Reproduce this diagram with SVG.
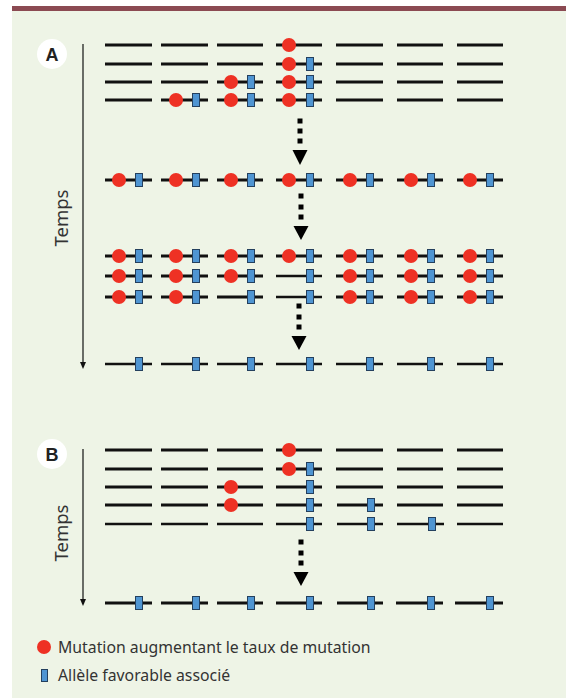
<svg xmlns="http://www.w3.org/2000/svg" width="566" height="698" viewBox="0 0 566 698">
<style>
.ch{stroke:#111;stroke-width:3;fill:none}
.th{stroke-width:2.4}
.m{fill:#ee3124}
.a{fill:#4f95d2;stroke:#24405e;stroke-width:1}
.ax{stroke:#111;stroke-width:1.2;fill:none}
.dot{fill:#000}
.lbl{font-family:"Liberation Sans",Arial,sans-serif;font-weight:bold;font-size:18px;fill:#222;text-anchor:middle}
.t{font-family:"Noto Sans","Open Sans",sans-serif;font-size:18.5px;fill:#333;text-anchor:middle}
.lg{font-family:"Noto Sans","Open Sans",sans-serif;font-size:15.8px;fill:#333}
</style>
<rect x="0" y="0" width="566" height="698" fill="#ffffff"/>
<rect x="12" y="10" width="554" height="688" fill="#eef4e6"/>
<rect x="12" y="6" width="554" height="5" fill="#8b4a52"/>

<g id="labelA"><circle cx="52" cy="54" r="15" fill="#fff"/><text class="lbl" x="52" y="60.5">A</text></g>
<g id="labelB"><circle cx="52" cy="454" r="15" fill="#fff"/><text class="lbl" x="52" y="460.5">B</text></g>
<text class="t" transform="translate(68,218) rotate(-90)">Temps</text>
<text class="t" transform="translate(68,533) rotate(-90)">Temps</text>

<g id="connectors">
<path class="ax" d="M83 44V363"/><polygon points="80,362 86,362 83,369" fill="#111"/>
<path class="ax" d="M83 449V600"/><polygon points="80,599 86,599 83,606" fill="#111"/>
<g id="arrowA1"><rect class="dot" x="297.5" y="118.5" width="5" height="5"/><rect class="dot" x="297.5" y="128.5" width="5" height="5"/><rect class="dot" x="297.5" y="138.5" width="5" height="5"/><polygon points="292.5,150 307.5,150 300,165"/></g>
<g id="arrowA2"><rect class="dot" x="298.5" y="193.5" width="5" height="5"/><rect class="dot" x="298.5" y="204.5" width="5" height="5"/><rect class="dot" x="298.5" y="214.5" width="5" height="5"/><polygon points="293.5,226 308.5,226 301,240"/></g>
<g id="arrowA3"><rect class="dot" x="296.5" y="303.5" width="5" height="5"/><rect class="dot" x="296.5" y="314.5" width="5" height="5"/><rect class="dot" x="296.5" y="324.5" width="5" height="5"/><polygon points="291.5,336 306.5,336 299,350"/></g>
<g id="arrowB"><rect class="dot" x="298.5" y="539.5" width="5" height="5"/><rect class="dot" x="298.5" y="550.5" width="5" height="5"/><rect class="dot" x="298.5" y="560.5" width="5" height="5"/><polygon points="293.5,572 308.5,572 301,586"/></g>
</g>

<!-- A stage 1 -->
<g id="a1r1c1"><path class="ch" d="M105 45h47"/></g>
<g id="a1r1c2"><path class="ch" d="M161 45h47"/></g>
<g id="a1r1c3"><path class="ch" d="M217 45h46"/></g>
<g id="a1r1c4"><path class="ch" d="M276 45h46"/><circle class="m" cx="289" cy="45" r="7"/></g>
<g id="a1r1c5"><path class="ch" d="M336 45h47"/></g>
<g id="a1r1c6"><path class="ch" d="M397 45h46"/></g>
<g id="a1r1c7"><path class="ch" d="M457 45h46"/></g>

<g id="a1r2c1"><path class="ch" d="M105 64h47"/></g>
<g id="a1r2c2"><path class="ch" d="M161 64h47"/></g>
<g id="a1r2c3"><path class="ch" d="M217 64h46"/></g>
<g id="a1r2c4"><path class="ch" d="M276 64h46"/><circle class="m" cx="289" cy="64" r="7"/><rect class="a" x="306.5" y="57.5" width="7" height="13"/></g>
<g id="a1r2c5"><path class="ch" d="M336 64h47"/></g>
<g id="a1r2c6"><path class="ch" d="M397 64h46"/></g>
<g id="a1r2c7"><path class="ch" d="M457 64h46"/></g>

<g id="a1r3c1"><path class="ch" d="M105 82h47"/></g>
<g id="a1r3c2"><path class="ch" d="M161 82h47"/></g>
<g id="a1r3c3"><path class="ch" d="M217 82h46"/><circle class="m" cx="231" cy="82" r="7"/><rect class="a" x="247.5" y="75.5" width="7" height="13"/></g>
<g id="a1r3c4"><path class="ch" d="M276 82h46"/><circle class="m" cx="289" cy="82" r="7"/><rect class="a" x="306.5" y="75.5" width="7" height="13"/></g>
<g id="a1r3c5"><path class="ch" d="M336 82h47"/></g>
<g id="a1r3c6"><path class="ch" d="M397 82h46"/></g>
<g id="a1r3c7"><path class="ch" d="M457 82h46"/></g>

<g id="a1r4c1"><path class="ch" d="M105 100h47"/></g>
<g id="a1r4c2"><path class="ch" d="M161 100h47"/><circle class="m" cx="176" cy="100" r="7"/><rect class="a" x="192.5" y="93.5" width="7" height="13"/></g>
<g id="a1r4c3"><path class="ch" d="M217 100h46"/><circle class="m" cx="231" cy="100" r="7"/><rect class="a" x="247.5" y="93.5" width="7" height="13"/></g>
<g id="a1r4c4"><path class="ch" d="M276 100h46"/><circle class="m" cx="289" cy="100" r="7"/><rect class="a" x="306.5" y="93.5" width="7" height="13"/></g>
<g id="a1r4c5"><path class="ch" d="M336 100h47"/></g>
<g id="a1r4c6"><path class="ch" d="M397 100h46"/></g>
<g id="a1r4c7"><path class="ch" d="M457 100h46"/></g>

<!-- A stage 2 -->
<g id="a2c1"><path class="ch" d="M105 180h47"/><circle class="m" cx="119" cy="180" r="7"/><rect class="a" x="135.5" y="173.5" width="7" height="13"/></g>
<g id="a2c2"><path class="ch" d="M161 180h47"/><circle class="m" cx="176" cy="180" r="7"/><rect class="a" x="192.5" y="173.5" width="7" height="13"/></g>
<g id="a2c3"><path class="ch" d="M217 180h46"/><circle class="m" cx="231" cy="180" r="7"/><rect class="a" x="247.5" y="173.5" width="7" height="13"/></g>
<g id="a2c4"><path class="ch" d="M276 180h46"/><circle class="m" cx="289" cy="180" r="7"/><rect class="a" x="306.5" y="173.5" width="7" height="13"/></g>
<g id="a2c5"><path class="ch" d="M336 180h47"/><circle class="m" cx="350" cy="180" r="7"/><rect class="a" x="366.5" y="173.5" width="7" height="13"/></g>
<g id="a2c6"><path class="ch" d="M397 180h46"/><circle class="m" cx="411" cy="180" r="7"/><rect class="a" x="427.5" y="173.5" width="7" height="13"/></g>
<g id="a2c7"><path class="ch" d="M457 180h46"/><circle class="m" cx="470" cy="180" r="7"/><rect class="a" x="486.5" y="173.5" width="7" height="13"/></g>

<!-- A stage 3 -->
<g id="a3r1c1"><path class="ch" d="M105 256h47"/><circle class="m" cx="119" cy="256" r="7"/><rect class="a" x="135.5" y="249.5" width="7" height="13"/></g>
<g id="a3r1c2"><path class="ch" d="M161 256h47"/><circle class="m" cx="176" cy="256" r="7"/><rect class="a" x="192.5" y="249.5" width="7" height="13"/></g>
<g id="a3r1c3"><path class="ch" d="M217 256h46"/><circle class="m" cx="231" cy="256" r="7"/><rect class="a" x="247.5" y="249.5" width="7" height="13"/></g>
<g id="a3r1c4"><path class="ch" d="M276 256h46"/><circle class="m" cx="289" cy="256" r="7"/><rect class="a" x="306.5" y="249.5" width="7" height="13"/></g>
<g id="a3r1c5"><path class="ch" d="M336 256h47"/><circle class="m" cx="350" cy="256" r="7"/><rect class="a" x="366.5" y="249.5" width="7" height="13"/></g>
<g id="a3r1c6"><path class="ch" d="M397 256h46"/><circle class="m" cx="411" cy="256" r="7"/><rect class="a" x="427.5" y="249.5" width="7" height="13"/></g>
<g id="a3r1c7"><path class="ch" d="M457 256h46"/><circle class="m" cx="470" cy="256" r="7"/><rect class="a" x="486.5" y="249.5" width="7" height="13"/></g>

<g id="a3r2c1"><path class="ch" d="M105 276h47"/><circle class="m" cx="119" cy="276" r="7"/><rect class="a" x="135.5" y="269.5" width="7" height="13"/></g>
<g id="a3r2c2"><path class="ch" d="M161 276h47"/><circle class="m" cx="176" cy="276" r="7"/><rect class="a" x="192.5" y="269.5" width="7" height="13"/></g>
<g id="a3r2c3"><path class="ch" d="M217 276h46"/><circle class="m" cx="231" cy="276" r="7"/><rect class="a" x="247.5" y="269.5" width="7" height="13"/></g>
<g id="a3r2c4"><path class="ch th" d="M276 276h46"/><rect class="a" x="306.5" y="269.5" width="7" height="13"/></g>
<g id="a3r2c5"><path class="ch" d="M336 276h47"/><circle class="m" cx="350" cy="276" r="7"/><rect class="a" x="366.5" y="269.5" width="7" height="13"/></g>
<g id="a3r2c6"><path class="ch" d="M397 276h46"/><circle class="m" cx="411" cy="276" r="7"/><rect class="a" x="427.5" y="269.5" width="7" height="13"/></g>
<g id="a3r2c7"><path class="ch" d="M457 276h46"/><circle class="m" cx="470" cy="276" r="7"/><rect class="a" x="486.5" y="269.5" width="7" height="13"/></g>

<g id="a3r3c1"><path class="ch" d="M105 297h47"/><circle class="m" cx="119" cy="297" r="7"/><rect class="a" x="135.5" y="290.5" width="7" height="13"/></g>
<g id="a3r3c2"><path class="ch" d="M161 297h47"/><circle class="m" cx="176" cy="297" r="7"/><rect class="a" x="192.5" y="290.5" width="7" height="13"/></g>
<g id="a3r3c3"><path class="ch" d="M217 297h46"/><rect class="a" x="247.5" y="290.5" width="7" height="13"/></g>
<g id="a3r3c4"><path class="ch th" d="M276 297h46"/><rect class="a" x="306.5" y="290.5" width="7" height="13"/></g>
<g id="a3r3c5"><path class="ch" d="M336 297h47"/><circle class="m" cx="350" cy="297" r="7"/><rect class="a" x="366.5" y="290.5" width="7" height="13"/></g>
<g id="a3r3c6"><path class="ch" d="M397 297h46"/><circle class="m" cx="411" cy="297" r="7"/><rect class="a" x="427.5" y="290.5" width="7" height="13"/></g>
<g id="a3r3c7"><path class="ch" d="M457 297h46"/><circle class="m" cx="470" cy="297" r="7"/><rect class="a" x="486.5" y="290.5" width="7" height="13"/></g>

<!-- A stage 4 -->
<g id="a4c1"><path class="ch th" d="M105 364h47"/><rect class="a" x="135.5" y="357.5" width="7" height="13"/></g>
<g id="a4c2"><path class="ch th" d="M161 364h47"/><rect class="a" x="192.5" y="357.5" width="7" height="13"/></g>
<g id="a4c3"><path class="ch th" d="M217 364h46"/><rect class="a" x="247.5" y="357.5" width="7" height="13"/></g>
<g id="a4c4"><path class="ch th" d="M276 364h46"/><rect class="a" x="306.5" y="357.5" width="7" height="13"/></g>
<g id="a4c5"><path class="ch th" d="M336 364h47"/><rect class="a" x="366.5" y="357.5" width="7" height="13"/></g>
<g id="a4c6"><path class="ch th" d="M397 364h46"/><rect class="a" x="427.5" y="357.5" width="7" height="13"/></g>
<g id="a4c7"><path class="ch th" d="M457 364h46"/><rect class="a" x="486.5" y="357.5" width="7" height="13"/></g>

<!-- B stage 1 -->
<g id="b1r1c1"><path class="ch" d="M105 450h47"/></g>
<g id="b1r1c2"><path class="ch" d="M161 450h47"/></g>
<g id="b1r1c3"><path class="ch" d="M217 450h46"/></g>
<g id="b1r1c4"><path class="ch" d="M276 450h46"/><circle class="m" cx="289" cy="450" r="7"/></g>
<g id="b1r1c5"><path class="ch" d="M336 450h47"/></g>
<g id="b1r1c6"><path class="ch" d="M397 450h46"/></g>
<g id="b1r1c7"><path class="ch" d="M457 450h46"/></g>

<g id="b1r2c1"><path class="ch" d="M105 469h47"/></g>
<g id="b1r2c2"><path class="ch" d="M161 469h47"/></g>
<g id="b1r2c3"><path class="ch" d="M217 469h46"/></g>
<g id="b1r2c4"><path class="ch" d="M276 469h46"/><circle class="m" cx="289" cy="469" r="7"/><rect class="a" x="306.5" y="462.5" width="7" height="13"/></g>
<g id="b1r2c5"><path class="ch" d="M336 469h47"/></g>
<g id="b1r2c6"><path class="ch" d="M397 469h46"/></g>
<g id="b1r2c7"><path class="ch" d="M457 469h46"/></g>

<g id="b1r3c1"><path class="ch" d="M105 487h47"/></g>
<g id="b1r3c2"><path class="ch" d="M161 487h47"/></g>
<g id="b1r3c3"><path class="ch" d="M217 487h46"/><circle class="m" cx="231" cy="487" r="7"/></g>
<g id="b1r3c4"><path class="ch" d="M276 487h46"/><rect class="a" x="306.5" y="480.5" width="7" height="13"/></g>
<g id="b1r3c5"><path class="ch" d="M336 487h47"/></g>
<g id="b1r3c6"><path class="ch" d="M397 487h46"/></g>
<g id="b1r3c7"><path class="ch" d="M457 487h46"/></g>

<g id="b1r4c1"><path class="ch" d="M105 505h47"/></g>
<g id="b1r4c2"><path class="ch" d="M161 505h47"/></g>
<g id="b1r4c3"><path class="ch" d="M217 505h46"/><circle class="m" cx="231" cy="505" r="7"/></g>
<g id="b1r4c4"><path class="ch" d="M276 505h46"/><rect class="a" x="306.5" y="498.5" width="7" height="13"/></g>
<g id="b1r4c5"><path class="ch" d="M337 505h46"/><rect class="a" x="367.5" y="498.5" width="7" height="13"/></g>
<g id="b1r4c6"><path class="ch" d="M397 505h46"/></g>
<g id="b1r4c7"><path class="ch" d="M457 505h46"/></g>

<g id="b1r5c1"><path class="ch th" d="M105 524h47"/></g>
<g id="b1r5c2"><path class="ch th" d="M161 524h47"/></g>
<g id="b1r5c3"><path class="ch th" d="M217 524h46"/></g>
<g id="b1r5c4"><path class="ch th" d="M276 524h46"/><rect class="a" x="306.5" y="517.5" width="7" height="13"/></g>
<g id="b1r5c5"><path class="ch th" d="M337 524h46"/><rect class="a" x="367.5" y="517.5" width="7" height="13"/></g>
<g id="b1r5c6"><path class="ch th" d="M397 524h47"/><rect class="a" x="428.5" y="517.5" width="7" height="13"/></g>
<g id="b1r5c7"><path class="ch th" d="M457 524h46"/></g>

<!-- B stage 2 -->
<g id="b2c1"><path class="ch" d="M105 603h47"/><rect class="a" x="135.5" y="596.5" width="7" height="13"/></g>
<g id="b2c2"><path class="ch" d="M161 603h47"/><rect class="a" x="192.5" y="596.5" width="7" height="13"/></g>
<g id="b2c3"><path class="ch" d="M217 603h46"/><rect class="a" x="247.5" y="596.5" width="7" height="13"/></g>
<g id="b2c4"><path class="ch" d="M276 603h46"/><rect class="a" x="306.5" y="596.5" width="7" height="13"/></g>
<g id="b2c5"><path class="ch" d="M337 603h46"/><rect class="a" x="367.5" y="596.5" width="7" height="13"/></g>
<g id="b2c6"><path class="ch" d="M396 603h47"/><rect class="a" x="427.5" y="596.5" width="7" height="13"/></g>
<g id="b2c7"><path class="ch" d="M455 603h48"/><rect class="a" x="486.5" y="596.5" width="7" height="13"/></g>

<!-- Legend -->
<g id="legend">
<circle class="m" cx="44" cy="647" r="7"/>
<text class="lg" x="58" y="653">Mutation augmentant le taux de mutation</text>
<rect class="a" x="41.5" y="669.5" width="6" height="12"/>
<text class="lg" x="58" y="681">Allèle favorable associé</text>
</g>
</svg>
